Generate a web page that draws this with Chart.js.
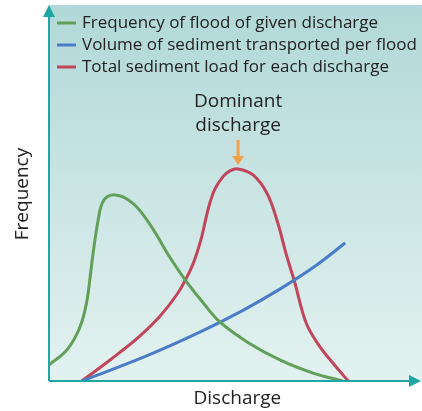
<!DOCTYPE html>
<html>
<head>
<meta charset="utf-8">
<script src="https://cdn.jsdelivr.net/npm/chart.js@4"></script>
<style>
  html, body { margin: 0; padding: 0; background: #fff; }
  #wrap { width: 422px; height: 411px; position: relative; }
</style>
</head>
<body>
<div id="wrap"><canvas id="chart"></canvas></div>
<script>
// Data (discharge on x, relative frequency / amount on y, both 0-100)
const floodX = [0, 4.3, 6.9, 8.8, 10.2, 11, 11.8, 12.6, 13.4, 13.9, 14.7, 15.8, 17.7, 20, 23, 26, 29, 32, 36.5, 41, 45.8, 53.1, 61.9, 70.8, 78.8];
const floodY = [4.3, 7.7, 11.4, 15.7, 21.5, 27.4, 33.8, 39.4, 44.1, 46.3, 48.1, 49.1, 49.5, 48.9, 46.8, 43.2, 38.6, 33.5, 26.9, 21.2, 15.7, 10.4, 5.6, 2.1, 0];

const volumeX = [8.8, 25, 40, 52, 62, 71, 79.4];
const volumeY = [0, 6.2, 12.8, 18.8, 24.5, 30.3, 36.7];

const loadX = [8.8, 13.7, 19, 24.4, 29.8, 34.3, 37, 38.6, 39.9, 41, 42.1, 43.2, 44.5, 46.6, 48.5, 50.7, 54.7, 58.4, 61.1, 63.8, 66, 67.8, 69.4, 72.7, 76.1, 80.2];
const loadY = [0, 3.6, 7.6, 12, 17.3, 23, 27.7, 31.1, 34.8, 38.6, 43.4, 47.6, 51.1, 54.3, 55.9, 56.4, 54.8, 50, 42.8, 33, 25.8, 18.9, 14.4, 9, 4.8, 0];

const labels = [
    "Frequency of flood of given discharge",
    "Volume of sediment transported per flood",
    "Total sediment load for each discharge"
];
const colors = ['#62a05a', '#4a7cc8', '#c1455b'];

const xTitle = "Discharge";
const yTitle = "Frequency";
const noteLines = ["Dominant", "discharge"];

function toPoints(xs, ys) {
    return xs.map((x, i) => ({ x: x, y: ys[i] }));
}

const fontFamily = '"Open Sans", "DejaVu Sans", sans-serif';
const axisColor = '#1ea6a4';

// background, axes, legend and annotation
const decorPlugin = {
    id: 'decor',
    beforeDraw(chart) {
        const { ctx, chartArea: a } = chart;
        const g = ctx.createLinearGradient(0, a.top, 0, a.bottom);
        g.addColorStop(0, '#b1d8d8');
        g.addColorStop(1, '#e3f2f0');
        ctx.save();
        ctx.fillStyle = g;
        ctx.fillRect(a.left, a.top, a.right - a.left, a.bottom - a.top);
        ctx.restore();
    },
    afterDraw(chart) {
        const { ctx, chartArea: a } = chart;
        const xs = chart.scales.x;
        ctx.save();

        // axes with arrow heads
        ctx.strokeStyle = axisColor;
        ctx.fillStyle = axisColor;
        ctx.lineWidth = 2;
        ctx.beginPath();
        ctx.moveTo(a.left, a.bottom);
        ctx.lineTo(a.left, a.top + 10);
        ctx.moveTo(a.left, a.bottom);
        ctx.lineTo(a.right - 10, a.bottom);
        ctx.stroke();
        ctx.beginPath();
        ctx.moveTo(a.left, a.top);
        ctx.lineTo(a.left - 6, a.top + 12);
        ctx.lineTo(a.left + 6, a.top + 12);
        ctx.closePath();
        ctx.fill();
        ctx.beginPath();
        ctx.moveTo(a.right - 1, a.bottom);
        ctx.lineTo(a.right - 13, a.bottom - 6);
        ctx.lineTo(a.right - 13, a.bottom + 6);
        ctx.closePath();
        ctx.fill();

        // axis titles
        ctx.fillStyle = '#222';
        ctx.font = '19px ' + fontFamily;
        ctx.textAlign = 'center';
        ctx.textBaseline = 'middle';
        ctx.fillText(xTitle, xs.getPixelForValue(50.5), a.bottom + 18);
        ctx.save();
        ctx.translate(23, 194);
        ctx.rotate(-Math.PI / 2);
        ctx.fillText(yTitle, 0, 0);
        ctx.restore();

        // legend
        ctx.font = '17px ' + fontFamily;
        ctx.textAlign = 'left';
        chart.data.datasets.forEach((ds, i) => {
            const y = a.top + 18 + i * 22;
            ctx.strokeStyle = ds.borderColor;
            ctx.lineWidth = 3;
            ctx.beginPath();
            ctx.moveTo(a.left + 8, y);
            ctx.lineTo(a.left + 27, y);
            ctx.stroke();
            ctx.fillStyle = '#222';
            ctx.fillText(ds.label, a.left + 33, y);
        });

        // dominant discharge note
        const peak = loadY.indexOf(Math.max(...loadY));
        const px = xs.getPixelForValue(loadX[peak]);
        const py = chart.scales.y.getPixelForValue(loadY[peak]);
        ctx.font = '19px ' + fontFamily;
        ctx.textAlign = 'center';
        ctx.fillStyle = '#222';
        ctx.fillText(noteLines[0], px, py - 67);
        ctx.fillText(noteLines[1], px, py - 43);
        ctx.strokeStyle = '#f5a047';
        ctx.fillStyle = '#f5a047';
        ctx.lineWidth = 3;
        ctx.beginPath();
        ctx.moveTo(px, py - 29);
        ctx.lineTo(px, py - 12);
        ctx.stroke();
        ctx.beginPath();
        ctx.moveTo(px - 6, py - 13);
        ctx.lineTo(px + 6, py - 13);
        ctx.lineTo(px, py - 4);
        ctx.closePath();
        ctx.fill();
        ctx.restore();
    }
};

const datasets = [
    toPoints(floodX, floodY),
    toPoints(volumeX, volumeY),
    toPoints(loadX, loadY)
].map((pts, i) => ({
    label: labels[i],
    data: pts,
    borderColor: colors[i],
    borderWidth: 3,
    pointRadius: 0,
    fill: false,
    tension: 0.4
}));

new Chart(document.getElementById('chart'), {
    type: 'line',
    data: { datasets: datasets },
    options: {
        responsive: true,
        maintainAspectRatio: false,
        animation: false,
        layout: { padding: { left: 49, top: 5, right: 0, bottom: 30 } },
        scales: {
            x: { type: 'linear', min: 0, max: 100, display: false },
            y: { type: 'linear', min: 0, max: 100, display: false }
        },
        plugins: {
            legend: { display: false },
            tooltip: { enabled: false }
        }
    },
    plugins: [decorPlugin]
});
</script>
</body>
</html>
